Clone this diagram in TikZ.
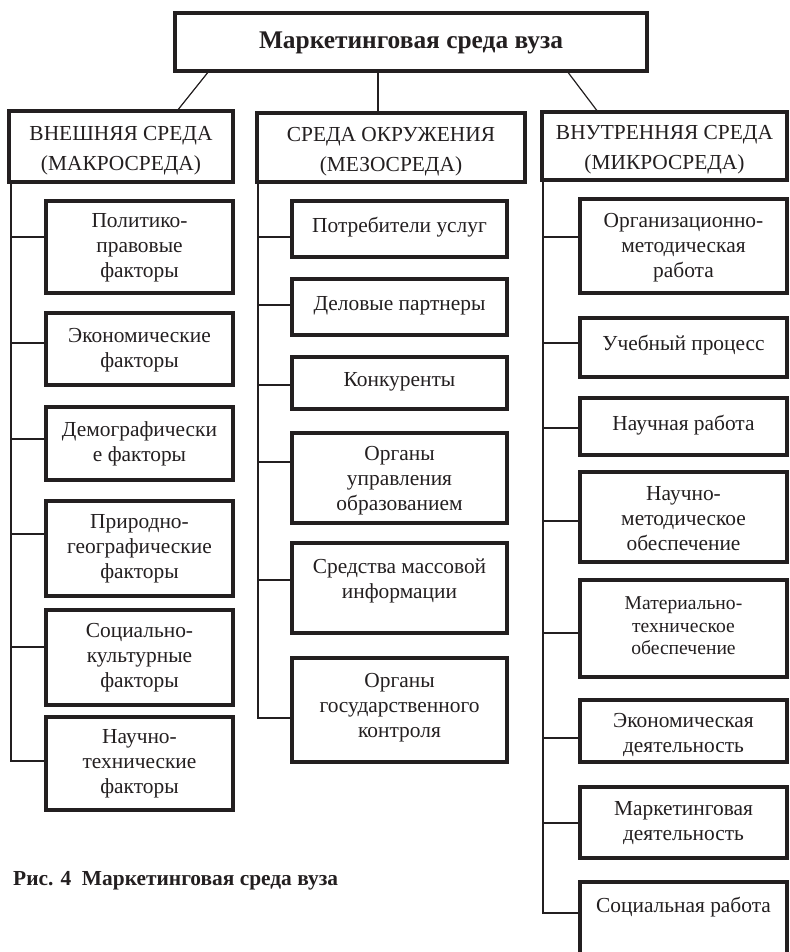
\documentclass[tikz,border=0pt]{standalone}
\usepackage{fontspec}
\setmainfont{Liberation Serif}
\definecolor{ink}{HTML}{231F20}
\newcommand{\BX}[8]{%
  \node[box, minimum width={#4-#2}, minimum height={#5-#3}] (#1) at ({(#2+#4)/2},{(#3+#5)/2}) {};
  \node[#7] (#1t) at ({(#2+#4)/2},#6) {#8};}
\begin{document}
\begin{tikzpicture}[x=1pt,y=-1pt,
  box/.style={draw=ink, line width=3.6pt, rectangle, inner sep=0pt, outer sep=0pt, fill=white},
  txt/.style={align=center, inner sep=0pt, text=ink, font=\fontsize{21.4}{25}\selectfont},
  stxt/.style={align=center, inner sep=0pt, text=ink, font=\fontsize{19.6}{22.5}\selectfont},
  hdr/.style={align=center, inner sep=0pt, text=ink, font=\fontsize{21.4}{30}\selectfont},
  ttl/.style={align=center, inner sep=0pt, text=ink, font=\bfseries\fontsize{25.4}{28}\selectfont},
  con/.style={draw=ink, line width=1.2pt}]
\useasboundingbox (0,0) rectangle (789,952);
\clip (0,0) rectangle (789,952);

% top and level-2 boxes
\BX{top}{175}{13}{647}{71}{43}{ttl}{Маркетинговая среда вуза}
\BX{A}{9}{111}{233}{182}{151}{hdr}{ВНЕШНЯЯ СРЕДА\\(МАКРОСРЕДА)}
\BX{B}{257}{113}{525}{182}{152}{hdr}{СРЕДА ОКРУЖЕНИЯ\\(МЕЗОСРЕДА)}
\BX{C}{542}{112}{787}{180}{150}{hdr}{ВНУТРЕННЯЯ СРЕДА\\(МИКРОСРЕДА)}

\draw[con] (top.south -| 209,0) -- (A.north -| 177,0);
\draw[con] (top.south -| 378,0) -- (B.north -| 378,0);
\draw[con] (top.south -| 567,0) -- (C.north -| 598,0);

% left column
\BX{L1}{46}{201}{233}{293}{248}{txt}{Политико-\\правовые\\факторы}
\BX{L2}{46}{313}{233}{385}{350}{txt}{Экономические\\факторы}
\BX{L3}{46}{407}{233}{480}{444}{txt}{Демографически\\е факторы}
\BX{L4}{46}{501}{233}{596}{549}{txt}{Природно-\\географические\\факторы}
\BX{L5}{46}{610}{233}{705}{658}{txt}{Социально-\\культурные\\факторы}
\BX{L6}{46}{717}{233}{810}{764}{txt}{Научно-\\технические\\факторы}

% middle column
\BX{M1}{292}{201}{507}{257}{227}{txt}{Потребители услуг}
\BX{M2}{292}{279}{507}{335}{306}{txt}{Деловые партнеры}
\BX{M3}{292}{357}{507}{409}{382}{txt}{Конкуренты}
\BX{M4}{292}{433}{507}{523}{481}{txt}{Органы\\управления\\образованием}
\BX{M5}{292}{543}{507}{633}{581}{txt}{Средства массовой\\информации}
\BX{M6}{292}{658}{507}{762}{708}{txt}{Органы\\государственного\\контроля}

% right column
\BX{R1}{580}{199}{787}{293}{248}{txt}{Организационно-\\методическая\\работа}
\BX{R2}{580}{318}{787}{377}{345}{txt}{Учебный процесс}
\BX{R3}{580}{398}{787}{455}{425}{txt}{Научная работа}
\BX{R4}{580}{472}{787}{562}{519}{txt}{Научно-\\методическое\\обеспечение}
\BX{R5}{580}{580}{787}{677}{626}{stxt}{Материально-\\техническое\\обеспечение}
\BX{R6}{580}{700}{787}{762}{735}{txt}{Экономическая\\деятельность}
\BX{R7}{580}{787}{787}{858}{823}{txt}{Маркетинговая\\деятельность}
\BX{R8}{580}{882}{787}{962}{907}{txt}{Социальная работа}

% spines
\coordinate (sL) at (A.south -| 11,0);
\coordinate (sM) at (B.south -| 258,0);
\coordinate (sR) at (C.south -| 543,0);

\draw[con] (sL) |- (L6.west |- 0,761);
\foreach \n/\y in {L1/237, L2/343, L3/439, L4/534, L5/647}
  \draw[con] (sL |- 0,\y) -- (\n.west |- 0,\y);

\draw[con] (sM) |- (M6.west |- 0,718);
\foreach \n/\y in {M1/237, M2/305, M3/385, M4/462, M5/580}
  \draw[con] (sM |- 0,\y) -- (\n.west |- 0,\y);

\draw[con] (sR) |- (R8.west |- 0,913);
\foreach \n/\y in {R1/237, R2/343, R3/428, R4/521, R5/633, R6/738, R7/823}
  \draw[con] (sR |- 0,\y) -- (\n.west |- 0,\y);

% caption
\node[anchor=base west, inner sep=0pt, text=ink, font=\bfseries\fontsize{21.4}{24}\selectfont] (cap) at (13,885) {Рис. 4\ \ Маркетинговая среда вуза};
\end{tikzpicture}
\end{document}
